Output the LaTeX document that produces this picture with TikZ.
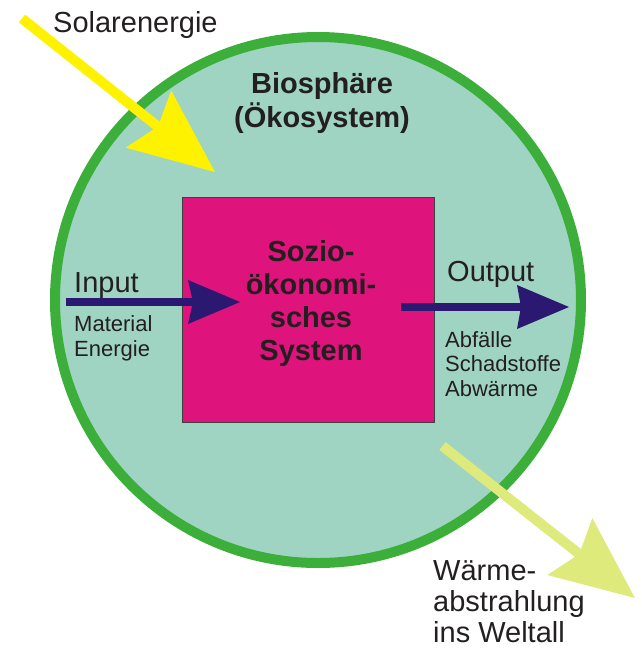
\documentclass[tikz,border=0pt]{standalone}
\usepackage{fontspec}
\setmainfont{Liberation Sans}
\usetikzlibrary{calc}
\definecolor{bio}{HTML}{9FD4C2}
\definecolor{ring}{HTML}{3BAF3A}
\definecolor{magbox}{HTML}{DE137C}
\definecolor{navy}{HTML}{2B1870}
\definecolor{sun}{HTML}{FFF200}
\definecolor{heat}{HTML}{DEEA7B}
\definecolor{ink}{HTML}{231F20}
\tikzset{
  txt/.style={inner sep=0pt, text=ink, font=\fontsize{29}{31.5}\selectfont},
  smalltxt/.style={inner sep=0pt, text=ink, font=\fontsize{22}{24.5}\selectfont},
  boldtxt/.style={inner sep=0pt, text=ink, font=\bfseries\fontsize{29}{32.7}\selectfont},
}
% #1 tail, #2 tip, #3 shaft width, #4 head length, #5 inset distance, #6 half width, #7 colour, #8 prefix
\newcommand\fatarrow[8]{%
  \coordinate (#8B) at ($(#2)!#4!(#1)$);
  \coordinate (#8I) at ($(#2)!#5!(#1)$);
  \coordinate (#8C1) at ($(#8B)!#6!90:(#2)$);
  \coordinate (#8C2) at ($(#8B)!#6!-90:(#2)$);
  \draw[#7, line width=#3] (#1) -- (#8I);
  \fill[#7] (#2) -- (#8C1) -- (#8I) -- (#8C2) -- cycle;
}
\begin{document}
\begin{tikzpicture}[x=1pt,y=-1pt]
\useasboundingbox (0,0) rectangle (642,649);
% biosphere
\coordinate (center) at (318,300);
\draw[ring, line width=10pt, fill=bio] (center) circle[radius=263pt];
% solar energy arrow
\coordinate (solTail) at (22,18.5);
\coordinate (solTip) at (215,172);
\fatarrow{solTail}{solTip}{10pt}{85pt}{73pt}{36.5pt}{sun}{sol}
% socio-economic system
\node[draw=black!75, line width=0.8pt, fill=magbox, minimum width=252pt, minimum height=225pt, inner sep=0pt] (box) at (308,309.5) {};
\node[boldtxt, anchor=base, align=center] (sozio) at (311,360) {Sozio-\\ökonomi-\\sches\\System};
% input / output
\coordinate (inTail) at (66,302);
\coordinate (inTip) at (240,302);
\fatarrow{inTail}{inTip}{8pt}{52pt}{47pt}{22pt}{navy}{in}
\coordinate (outTail) at (401,307);
\coordinate (outTip) at (569,307);
\fatarrow{outTail}{outTip}{8pt}{52pt}{48pt}{22pt}{navy}{out}
% heat radiation arrow
\coordinate (heatTail) at (442.5,446);
\coordinate (heatTip) at (635,598);
\fatarrow{heatTail}{heatTip}{10pt}{83pt}{71pt}{36.3pt}{heat}{ht}
% texts
\node[txt, anchor=base west] (solar) at (53,32) {Solarenergie};
\node[boldtxt, anchor=base, align=center, font=\bfseries\fontsize{29}{34}\selectfont] (biosph) at (322,127) {Biosphäre\\(Ökosystem)};
\node[txt, anchor=base west] (input) at (74,292) {Input};
\node[smalltxt, anchor=base west, align=left, font=\fontsize{22}{25}\selectfont] (inlist) at (74,356) {Material\\Energie};
\node[txt, anchor=base west] (output) at (447,281) {Output};
\node[smalltxt, anchor=base west, align=left] (outlist) at (445,396) {Abfälle\\Schadstoffe\\Abwärme};
\node[txt, anchor=base west, align=left, font=\fontsize{29}{31}\selectfont] (waerme) at (433,642) {Wärme-\\abstrahlung\\ins Weltall};
\end{tikzpicture}
\end{document}
